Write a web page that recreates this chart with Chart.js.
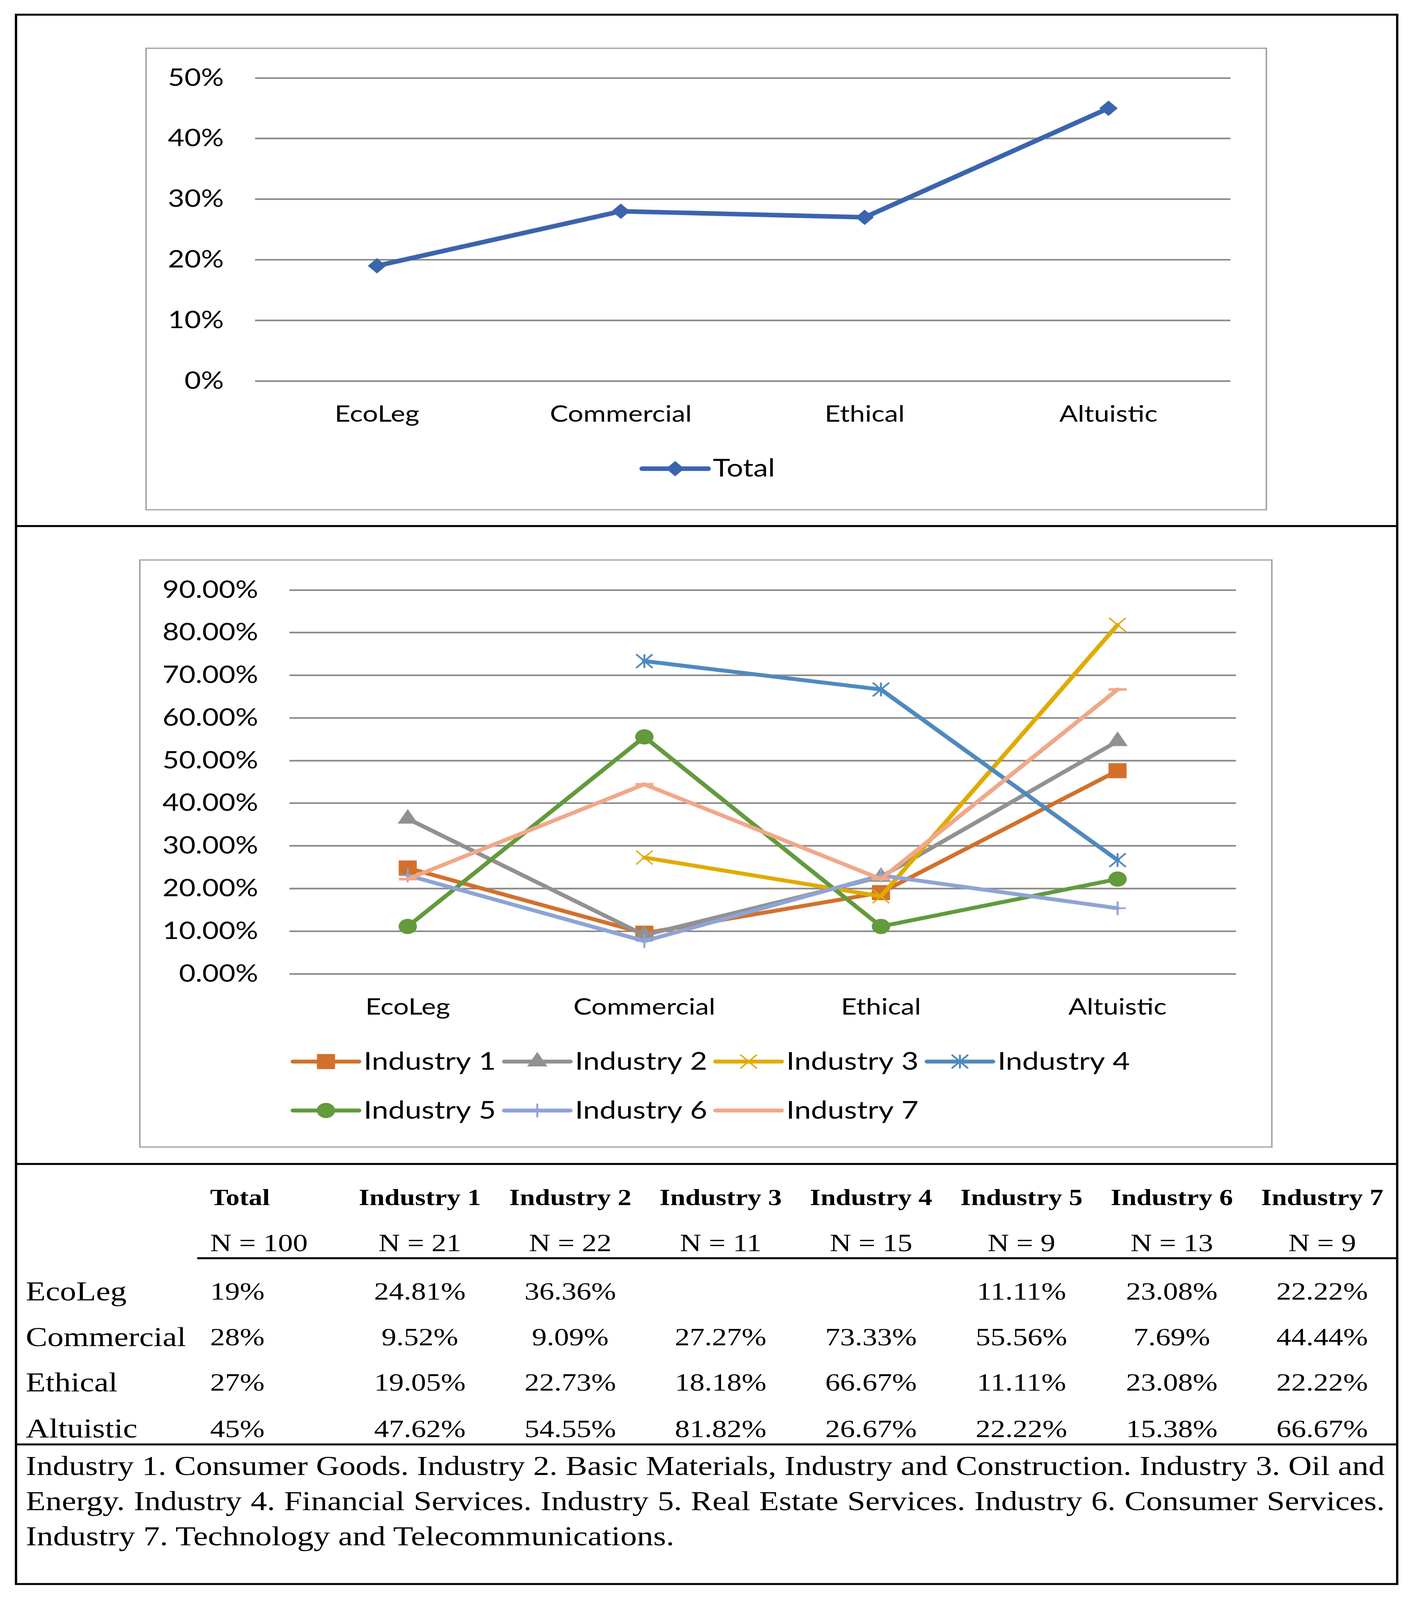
<!DOCTYPE html>
<html>
<head>
<meta charset="utf-8">
<script src="https://cdn.jsdelivr.net/npm/chart.js@4.4.1/dist/chart.umd.min.js"></script>
<style>
  html, body { margin: 0; padding: 0; background: #fff; overflow: hidden; }
  #page { position: absolute; left: 0; top: 0; width: 3620px; height: 4906px; transform-origin: 0 0; background: #fff; }
  .frame { position: absolute; left: 38px; top: 42px; width: 3542px; height: 4818px; border: 6px solid #000; box-sizing: border-box; }
  .hline { position: absolute; background: #000; height: 6px; }
  .chartbox { position: absolute; border: 4px solid #a6a6a6; }
  .chartbox canvas { display: block; }
  .cell { position: absolute; font-family: "Liberation Serif", serif; color: #000; white-space: nowrap; line-height: 100px; height: 100px; }
  .note { position: absolute; left: 66px; width: 3479px; font-family: "Liberation Serif", serif; font-size: 84px; line-height: 107px; white-space: nowrap; color: #000; }
</style>
</head>
<body>
<div id="page">
  <div class="frame"></div>
  <div class="hline" style="left:38px; width:3542px; top:1610px;"></div>
  <div class="hline" style="left:38px; width:3542px; top:3566px;"></div>
  <div class="hline" style="left:505px; width:3075px; top:3855px;"></div>
  <div class="hline" style="left:38px; width:3542px; top:4426px;"></div>

  <div class="chartbox" style="left:372px; top:146px;">
    <canvas id="totalChart" width="2864" height="1411"></canvas>
  </div>
  <div class="chartbox" style="left:356px; top:1715px;">
    <canvas id="industryChart" width="2894" height="1796"></canvas>
  </div>
  <div id="table"></div>
</div>

<script>
const categories = ['EcoLeg', 'Commercial', 'Ethical', 'Altuistic'];
const totalValues = [19, 28, 27, 45];
const totalN = 100;

const industryNames = ['Industry 1', 'Industry 2', 'Industry 3', 'Industry 4', 'Industry 5', 'Industry 6', 'Industry 7'];
const industryN = [21, 22, 11, 15, 9, 13, 9];
const industry1 = [24.81, 9.52, 19.05, 47.62];
const industry2 = [36.36, 9.09, 22.73, 54.55];
const industry3 = [null, 27.27, 18.18, 81.82];
const industry4 = [null, 73.33, 66.67, 26.67];
const industry5 = [11.11, 55.56, 11.11, 22.22];
const industry6 = [23.08, 7.69, 23.08, 15.38];
const industry7 = [22.22, 44.44, 22.22, 66.67];

const totalTicks = { min: 0, max: 50, step: 10 };
const industryTicks = { min: 0, max: 90, step: 10 };

const footnote = [
  'Industry 1. Consumer Goods. Industry 2. Basic Materials, Industry and Construction. Industry 3. Oil and',
  'Energy. Industry 4. Financial Services. Industry 5. Real Estate Services. Industry 6. Consumer Services.',
  'Industry 7. Technology and Telecommunications.'
];

const gridColor = '#8a8a8a';
const chartFont = 'Lato';

// Excel style star marker: vertical bar and an X, no horizontal bar
function starMarker(color, r, w) {
  const c = document.createElement('canvas');
  const s = Math.ceil(2 * r + w + 2);
  c.width = s; c.height = s;
  const g = c.getContext('2d');
  const m = s / 2;
  g.strokeStyle = color;
  g.lineWidth = w;
  g.beginPath();
  g.moveTo(m, m - r); g.lineTo(m, m + r);
  g.moveTo(m - r, m - r); g.lineTo(m + r, m + r);
  g.moveTo(m + r, m - r); g.lineTo(m - r, m + r);
  g.stroke();
  return c;
}

// legend drawn like Excel: line with marker, items in a fixed grid
const excelLegend = {
  id: 'excelLegend',
  afterDraw(chart, args, opts) {
    const ctx = chart.ctx;
    ctx.save();
    chart.data.datasets.forEach((ds, i) => {
      const col = i % opts.cols;
      const row = Math.floor(i / opts.cols);
      const x = opts.x + col * opts.colWidth;
      const y = opts.y + row * opts.rowHeight;
      ctx.strokeStyle = ds.borderColor;
      ctx.lineWidth = opts.lineWidth;
      ctx.lineCap = 'round';
      ctx.beginPath();
      ctx.moveTo(x, y);
      ctx.lineTo(x + opts.lineLen, y);
      ctx.stroke();
      ctx.lineCap = 'butt';
      ctx.fillStyle = ds.borderColor;
      ctx.strokeStyle = ds.borderColor;
      ctx.lineWidth = ds.pointBorderWidth;
      if (Chart.helpers && Chart.helpers.drawPoint) {
        Chart.helpers.drawPoint(ctx, {
          pointStyle: ds.pointStyle,
          radius: ds.pointRadius,
          borderWidth: ds.pointBorderWidth,
          rotation: 0
        }, x + opts.lineLen / 2, y);
      }
      ctx.fillStyle = '#000';
      ctx.font = opts.font;
      ctx.textBaseline = 'middle';
      ctx.textAlign = 'left';
      ctx.fillText(ds.label, x + opts.lineLen + opts.gap, y);
    });
    ctx.restore();
  }
};

function axes(ticks, yWidth, xHeight, fmt) {
  return {
    x: {
      offset: true,
      grid: { display: false },
      border: { display: false },
      ticks: { color: '#000', font: { family: chartFont, size: 70 }, padding: 52, maxRotation: 0, autoSkip: false },
      afterFit(scale) { scale.height = xHeight; }
    },
    y: {
      min: ticks.min,
      max: ticks.max,
      border: { display: false },
      grid: { color: gridColor, lineWidth: 5, drawTicks: false, tickLength: 0 },
      ticks: { stepSize: ticks.step, color: '#000', font: { family: chartFont, size: 73 }, padding: 80, callback: fmt },
      afterFit(scale) {
        scale.width = yWidth;
        // keep the plot top set by layout padding only
        scale.paddingTop = 0;
        scale.paddingBottom = 0;
      }
    }
  };
}

new Chart(document.getElementById('totalChart'), {
  type: 'line',
  data: {
    labels: categories,
    datasets: [{
      label: 'Total',
      data: totalValues,
      borderColor: '#3b64ad',
      backgroundColor: '#3b64ad',
      borderWidth: 14,
      borderJoinStyle: 'round',
      borderCapStyle: 'round',
      pointStyle: 'rectRot',
      pointRadius: 23,
      pointBorderWidth: 1,
      pointBackgroundColor: '#3b64ad',
      pointBorderColor: '#3b64ad'
    }]
  },
  options: {
    responsive: false,
    devicePixelRatio: 1,
    animation: false,
    layout: { padding: { top: 89, right: 90, left: 0, bottom: 0 } },
    scales: axes(totalTicks, 277, 393, v => v + '%'),
    plugins: {
      legend: { display: false },
      tooltip: { enabled: false },
      excelLegend: { x: 1268, y: 1287, cols: 1, colWidth: 0, rowHeight: 0, lineLen: 169, gap: 12, lineWidth: 14, font: '75px Lato' }
    }
  },
  plugins: [excelLegend]
});

const industryData = [industry1, industry2, industry3, industry4, industry5, industry6, industry7];
const industryColors = ['#d2702c', '#919191', '#e0ab00', '#4f89bd', '#629a3c', '#8fa3d4', '#f0a889'];
const industryMarkers = [
  { style: 'rect', r: 32, w: 1 },
  { style: 'triangle', r: 29, w: 1 },
  { style: 'crossRot', r: 30, w: 4 },
  { style: starMarker(industryColors[3], 21, 5), r: 22, w: 1 },
  { style: 'circle', r: 23, w: 1 },
  { style: 'cross', r: 21, w: 5 },
  { style: 'line', r: 23, w: 8 }
];

new Chart(document.getElementById('industryChart'), {
  type: 'line',
  data: {
    labels: categories,
    datasets: industryData.map((values, i) => ({
      label: industryNames[i],
      data: values,
      order: industryData.length - 1 - i,
      borderColor: industryColors[i],
      backgroundColor: industryColors[i],
      borderWidth: 12,
      borderJoinStyle: 'round',
      borderCapStyle: 'round',
      spanGaps: false,
      pointStyle: industryMarkers[i].style,
      pointRadius: industryMarkers[i].r,
      pointBorderWidth: industryMarkers[i].w,
      pointBackgroundColor: industryColors[i],
      pointBorderColor: industryColors[i]
    }))
  },
  options: {
    responsive: false,
    devicePixelRatio: 1,
    animation: false,
    layout: { padding: { top: 90, right: 90, left: 0, bottom: 0 } },
    scales: axes(industryTicks, 381, 529, v => v.toFixed(2) + '%'),
    plugins: {
      legend: { display: false },
      tooltip: { enabled: false },
      excelLegend: { x: 390, y: 1536, cols: 4, colWidth: 541, rowHeight: 150, lineLen: 169, gap: 12, lineWidth: 12, font: '76px Lato' }
    }
  },
  plugins: [excelLegend]
});

// table below the charts
const page = document.getElementById('page');
const table = document.getElementById('table');
function cell(text, cx, cy, opts) {
  const d = document.createElement('div');
  d.className = 'cell';
  d.textContent = text;
  d.style.top = (cy - 50) + 'px';
  d.style.fontSize = (opts.size || 76) + 'px';
  if (opts.bold) d.style.fontWeight = 'bold';
  if (opts.left) {
    d.style.left = cx + 'px';
  } else {
    d.style.left = (cx - 250) + 'px';
    d.style.width = '500px';
    d.style.textAlign = 'center';
  }
  table.appendChild(d);
}
const colX = industryNames.map((_, i) => 1075 + i * 385);
const rowY = [3959, 4099, 4238, 4380];
cell('Total', 538, 3672, { left: true, bold: true, size: 70 });
cell('N = ' + totalN, 538, 3811, { left: true, size: 76 });
industryNames.forEach((name, i) => {
  cell(name, colX[i], 3672, { bold: true, size: 70 });
  cell('N = ' + industryN[i], colX[i], 3811, { size: 76 });
});
categories.forEach((cat, r) => {
  cell(cat, 66, rowY[r], { left: true, size: 83 });
  cell(totalValues[r] + '%', 538, rowY[r], { left: true, size: 76 });
  industryData.forEach((values, i) => {
    if (values[r] !== null) cell(values[r].toFixed(2) + '%', colX[i], rowY[r], { size: 76 });
  });
});

footnote.forEach((line, k) => {
  const d = document.createElement('div');
  d.className = 'note';
  d.style.top = (4442 + k * 107) + 'px';
  page.appendChild(d);
  const span = document.createElement('span');
  span.textContent = line;
  d.appendChild(span);
  if (k < footnote.length - 1) {
    // justify by hand so the lines break where the reference breaks
    let size = 84;
    while (span.getBoundingClientRect().width > 3479 && size > 60) {
      size -= 1;
      d.style.fontSize = size + 'px';
    }
    const spaces = line.split(' ').length - 1;
    const extra = 3479 - span.getBoundingClientRect().width;
    d.style.wordSpacing = (extra / spaces) + 'px';
  }
});

// the window can come out shorter than the 4906px page; squeeze it to fit
const fit = Math.min(1, window.innerHeight / 4906);
if (fit < 1) page.style.transform = 'scaleY(' + fit + ')';
</script>
</body>
</html>
